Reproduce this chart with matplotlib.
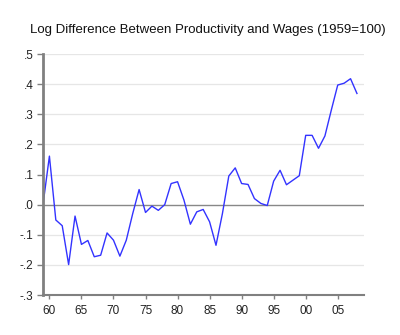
import matplotlib
matplotlib.use("Agg")
import matplotlib.pyplot as plt
from matplotlib.ticker import FuncFormatter

years = list(range(1959, 2009))
gap = [0.000, 0.161, -0.051, -0.070, -0.199, -0.038, -0.132, -0.119, -0.173, -0.168,
       -0.094, -0.118, -0.171, -0.118, -0.030, 0.050, -0.026, -0.005, -0.019, 0.000,
       0.070, 0.076, 0.015, -0.065, -0.024, -0.016, -0.057, -0.135, -0.030, 0.095,
       0.122, 0.070, 0.067, 0.020, 0.004, -0.003, 0.078, 0.114, 0.066, 0.081,
       0.096, 0.230, 0.230, 0.187, 0.228, 0.314, 0.397, 0.403, 0.418, 0.369]
yticks = [-0.3, -0.2, -0.1, 0.0, 0.1, 0.2, 0.3, 0.4, 0.5]
xticks = [1960, 1965, 1970, 1975, 1980, 1985, 1990, 1995, 2000, 2005]

plt.rcParams['font.family'] = ['Liberation Sans', 'DejaVu Sans']

fig = plt.figure(figsize=(4, 3.35), dpi=100)
ax = fig.add_axes([0.1075, 0.1194, 0.8025, 0.7194])

for y in yticks:
    if y != 0:
        ax.axhline(y, color='#e6e6e6', lw=0.9, zorder=0)
ax.axhline(0, color='#888888', lw=1.0, zorder=1)

ax.plot(years, gap, color='#3333ff', lw=1.0, zorder=2)

ax.set_xlim(1959, 2009.1)
ax.set_ylim(-0.3, 0.5)
ax.set_yticks(yticks)
ax.set_xticks(xticks)

def yfmt(v, pos):
    s = '%.1f' % v
    return s.replace('0.', '.')
ax.yaxis.set_major_formatter(FuncFormatter(yfmt))
ax.xaxis.set_major_formatter(FuncFormatter(lambda v, pos: '%02d' % (int(round(v)) % 100)))

for s in ['top', 'right']:
    ax.spines[s].set_visible(False)
ax.spines['left'].set_color('#808080')
ax.spines['left'].set_linewidth(2)
ax.spines['bottom'].set_color('#808080')
ax.spines['bottom'].set_linewidth(1.5)
ax.tick_params(axis='both', colors='#808080', labelcolor='#222222', labelsize=8.5, width=1)
ax.tick_params(axis='y', length=4, pad=3)
ax.tick_params(axis='x', length=3, pad=4)

fig.text(0.52, 0.91, 'Log Difference Between Productivity and Wages (1959=100)',
         ha='center', va='center', fontsize=9.5, color='#111111')

fig.savefig('out.png')
